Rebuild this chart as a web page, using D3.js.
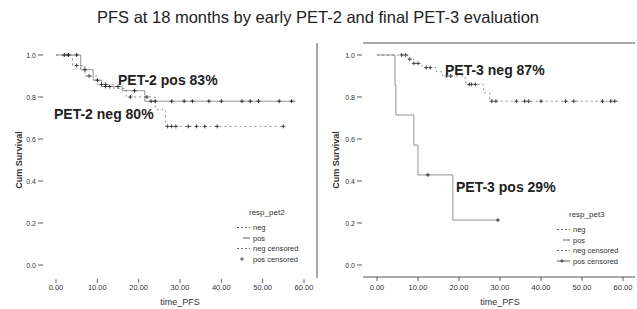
<!DOCTYPE html>
<html>
<head>
<meta charset="utf-8">
<script src="https://cdn.jsdelivr.net/npm/d3@7"></script>
<style>
  body { margin: 0; background: #fff; }
  svg { font-family: "Liberation Sans", Arial, sans-serif; }
</style>
</head>
<body>
<div id="chart"></div>
<script>
// KM curves: [time, survival] steps
const pet2Neg = [[0, 1.0], [4, 0.95], [7, 0.90], [10, 0.86], [14, 0.84], [17, 0.80], [24, 0.74], [26.5, 0.66], [55, 0.66]];
const pet2Pos = [[0, 1.0], [6, 0.93], [9, 0.88], [11, 0.85], [16, 0.83], [21.5, 0.78], [58, 0.78]];
const pet2NegCens = [3, 5, 8, 11, 12, 18, 22, 27, 28, 29, 32, 34, 36, 39, 55];
const pet2PosCens = [2, 3, 5, 7, 10, 12, 13, 15, 19, 23, 24, 28, 31, 33, 37, 40, 45, 47, 49, 54, 57];

const pet3Neg = [[0, 1.0], [7.5, 0.98], [9, 0.96], [11, 0.94], [14.5, 0.92], [16, 0.90], [21.5, 0.87], [22, 0.86], [26, 0.82], [27.5, 0.78], [59, 0.78]];
const pet3Pos = [[0, 1.0], [4.4, 0.857], [4.6, 0.714], [9, 0.571], [10, 0.429], [18.5, 0.214], [29.5, 0.214]];
const pet3NegCens = [6, 7, 8, 9, 10, 12, 13, 17, 18, 22.5, 23, 24, 28, 29, 34, 36, 37, 40, 46, 48, 55, 57, 58];
const pet3PosCens = [12.4, 29.5];

const xTicks = [0, 10, 20, 30, 40, 50, 60];
const yTicks = [0, 0.2, 0.4, 0.6, 0.8, 1.0];

const W = 637, H = 309;
const svg = d3.select('#chart').append('svg').attr('width', W).attr('height', H);

svg.append('text')
    .attr('x', 318).attr('y', 23)
    .attr('text-anchor', 'middle')
    .attr('font-size', '16.5px')
    .attr('fill', '#222')
    .text('PFS at 18 months by early PET-2 and final PET-3 evaluation');

function panel(opt) {
    const x = d3.scaleLinear().domain([0, 60]).range(opt.xr);
    const y = d3.scaleLinear().domain([0, 1]).range([265, 55]);
    const g = svg.append('g');

    // y ticks
    yTicks.forEach(t => {
        g.append('line')
            .attr('x1', opt.yTickX).attr('x2', opt.yTickX + 5)
            .attr('y1', y(t)).attr('y2', y(t))
            .attr('stroke', '#333').attr('stroke-width', 0.8);
        g.append('text')
            .attr('x', opt.yTickX - 2).attr('y', y(t) + 2.5)
            .attr('text-anchor', 'end')
            .attr('font-size', '7px').attr('fill', '#333')
            .text(t.toFixed(1));
    });

    // x ticks
    xTicks.forEach(t => {
        g.append('line')
            .attr('x1', x(t)).attr('x2', x(t))
            .attr('y1', opt.xTickY).attr('y2', opt.xTickY + 4)
            .attr('stroke', '#333').attr('stroke-width', 0.8);
        g.append('text')
            .attr('x', x(t)).attr('y', 290)
            .attr('text-anchor', 'middle')
            .attr('font-size', '7.5px').attr('fill', '#333')
            .text(t.toFixed(2));
    });

    g.append('text')
        .attr('x', x(30)).attr('y', 305)
        .attr('text-anchor', 'middle')
        .attr('font-size', '9px').attr('fill', '#333')
        .text('time_PFS');

    g.append('text')
        .attr('transform', `translate(${opt.labelX},160) rotate(-90)`)
        .attr('text-anchor', 'middle')
        .attr('font-size', '9px').attr('font-weight', 'bold').attr('fill', '#333')
        .text('Cum Survival');

    const step = d3.line().x(d => x(d[0])).y(d => y(d[1])).curve(d3.curveStepAfter);

    g.append('path').datum(opt.neg)
        .attr('d', step).attr('fill', 'none')
        .attr('stroke', '#777').attr('stroke-width', 0.8)
        .attr('stroke-dasharray', '2,3');
    g.append('path').datum(opt.pos)
        .attr('d', step).attr('fill', 'none')
        .attr('stroke', '#666').attr('stroke-width', 0.7);

    const survAt = (curve, t) => {
        let s = curve[0][1];
        curve.forEach(d => { if (d[0] <= t) s = d[1]; });
        return s;
    };
    const cross = (cx, cy) => `M${cx - 2},${cy}H${cx + 2}M${cx},${cy - 2}V${cy + 2}`;

    g.selectAll(null).data(opt.negCens).enter().append('path')
        .attr('d', t => cross(x(t), y(survAt(opt.neg, t))))
        .attr('stroke', '#333').attr('stroke-width', 0.9);
    g.selectAll(null).data(opt.posCens).enter().append('path')
        .attr('d', t => cross(x(t), y(survAt(opt.pos, t))))
        .attr('stroke', '#222').attr('stroke-width', 0.9);

    // annotations
    opt.notes.forEach(n => {
        g.append('text')
            .attr('x', n[1]).attr('y', n[2])
            .attr('font-size', '14px').attr('font-weight', 'bold').attr('fill', '#222')
            .text(n[0]);
    });

    // legend
    const lg = g.append('g').attr('transform', `translate(${opt.legX},${opt.legY})`);
    lg.append('text').attr('x', 12).attr('y', 0)
        .attr('font-size', '8px').attr('fill', '#333').text(opt.legTitle);
    const items = ['neg', 'pos', 'neg censored', 'pos censored'];
    items.forEach((name, i) => {
        const yy = 15 + i * 10.5;
        if (i === 0 || i === 2) {
            lg.append('line').attr('x1', 0).attr('x2', 13).attr('y1', yy - 2.5).attr('y2', yy - 2.5)
                .attr('stroke', '#444').attr('stroke-width', 0.8).attr('stroke-dasharray', '2,2');
        } else if (i === 1) {
            lg.append('line').attr('x1', 6).attr('x2', 13).attr('y1', yy - 2.5).attr('y2', yy - 2.5)
                .attr('stroke', '#333').attr('stroke-width', 0.8);
        } else {
            lg.append('path').attr('d', cross(5, yy - 2.5)).attr('stroke', '#333').attr('stroke-width', 0.8);
            if (opt.solidPosCens) {
                lg.append('line').attr('x1', 0).attr('x2', 13).attr('y1', yy - 2.5).attr('y2', yy - 2.5)
                    .attr('stroke', '#333').attr('stroke-width', 0.8);
            }
        }
        lg.append('text').attr('x', 16).attr('y', yy)
            .attr('font-size', '7.5px').attr('fill', '#333').text(name);
    });
}

panel({
    xr: [56, 304], yTickX: 38, xTickY: 279, labelX: 22,
    neg: pet2Neg, pos: pet2Pos, negCens: pet2NegCens, posCens: pet2PosCens,
    notes: [['PET-2 pos 83%', 118, 85], ['PET-2 neg 80%', 54, 119]],
    legTitle: 'resp_pet2', legX: 237, legY: 215
});

panel({
    xr: [377, 623], yTickX: 357, xTickY: 277, labelX: 339,
    neg: pet3Neg, pos: pet3Pos, negCens: pet3NegCens, posCens: pet3PosCens,
    notes: [['PET-3 neg 87%', 445, 75], ['PET-3 pos 29%', 456, 192]],
    legTitle: 'resp_pet3', legX: 557, legY: 217, solidPosCens: true
});

// panel frames as visible in the scan
const frame = [[317, 43, 317, 278], [363, 43, 635, 43], [363, 277, 635, 277]];
frame.forEach(f => {
    svg.append('line')
        .attr('x1', f[0]).attr('y1', f[1]).attr('x2', f[2]).attr('y2', f[3])
        .attr('stroke', '#555').attr('stroke-width', 1);
});
</script>
</body>
</html>
